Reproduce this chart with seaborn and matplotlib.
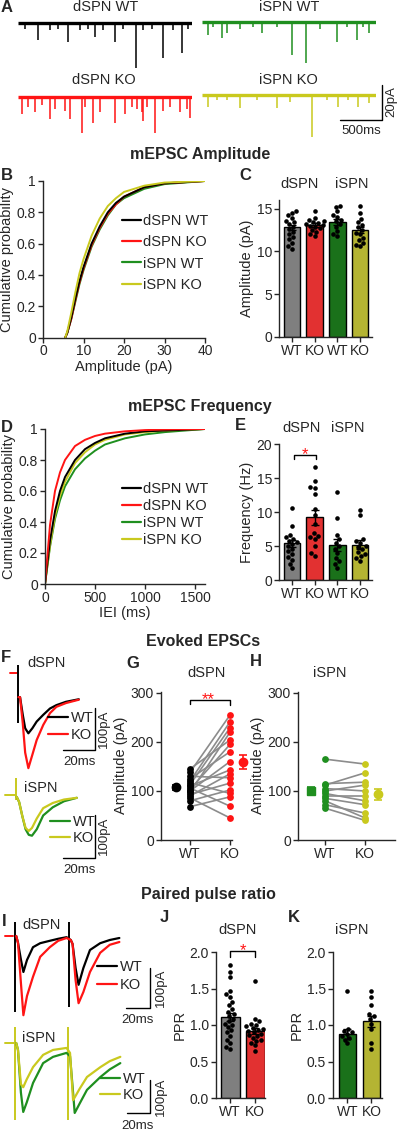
import numpy as np
import pandas as pd
import seaborn as sns
import matplotlib.pyplot as plt
from matplotlib.lines import Line2D

W, H = 400, 1132

BLACK, RED, GREEN, YELLOW, GRAY = '#000000', '#ff1414', '#1f8f1f', '#c9c91e', '#7f7f7f'
BAR_GREEN = '#0c7f0c'
PAIR_GRAY = '#8c8c8c'

# ---------------- A: example mEPSC traces (event time in ms, amplitude in pA)
trace_ms = 2070
a_dwt_time = [238, 595, 913, 1151, 1401, 1726, 1945, 80, 377, 476, 734, 833, 1008, 1248, 1486, 1587, 1845, 2023]
a_dwt_amp = [9.5, 10.5, 7.6, 10.5, 25.7, 20, 17, 3, 4, 3, 4, 3, 4, 3, 4, 3, 4, 3]
a_dko_time = [40, 119, 199, 278, 377, 437, 556, 615, 754, 794, 893, 972, 1151, 1270,
              1349, 1409, 1468, 1488, 1528, 1627, 1726, 1805, 1924, 2004, 2043]
a_dko_amp = [10, 6, 9, 5, 13, 7, 8, 13, 21, 6, 15, 9, 15, 10, 6, 7, 9, 14, 6, 21, 8, 6, 9, 7, 12]
a_iwt_time = [79, 238, 298, 714, 1071, 1241, 1607, 1845, 1994, 138, 456, 614, 892, 1408, 1725, 1923]
a_iwt_amp = [7.6, 9.5, 6.7, 6.7, 19, 23.8, 11.4, 10.5, 6.7, 3, 4, 3, 3, 4, 3, 3]
a_iko_time = [79, 456, 892, 1311, 1626, 1864, 1994, 178, 298, 654, 1051, 1488, 1745]
a_iko_amp = [6.7, 7.6, 7.6, 24, 6.7, 6.7, 4.8, 3, 3, 3, 4, 3, 3]

# ---------------- B: cumulative amplitude
b_amp = [5.5, 6, 7, 8, 9, 10, 12, 14, 16, 18, 20, 25, 30, 40]
b_dwt = [0, 0.03, 0.13, 0.25, 0.36, 0.45, 0.60, 0.71, 0.80, 0.86, 0.90, 0.96, 0.985, 1.0]
b_dko = [0, 0.03, 0.12, 0.24, 0.35, 0.44, 0.59, 0.70, 0.79, 0.85, 0.90, 0.96, 0.985, 1.0]
b_iwt = [0, 0.03, 0.12, 0.23, 0.34, 0.43, 0.58, 0.69, 0.78, 0.85, 0.89, 0.95, 0.98, 1.0]
b_iko = [0, 0.04, 0.16, 0.29, 0.41, 0.50, 0.65, 0.76, 0.84, 0.89, 0.93, 0.97, 0.99, 1.0]

# ---------------- C: amplitude per cell
groups = ['dSPN WT', 'dSPN KO', 'iSPN WT', 'iSPN KO']
c_dwt = [14.7, 14.5, 14.2, 13.9, 13.6, 13.4, 13.2, 12.9, 12.6, 12.3, 12.0, 11.7, 11.4, 11.0, 10.6, 10.3]
c_dko = [14.7, 13.9, 13.7, 13.5, 13.4, 13.3, 13.2, 13.1, 13.0, 12.9, 12.7, 12.5, 12.3, 12.0, 11.8]
c_iwt = [15.3, 15.2, 14.7, 14.3, 14.0, 13.7, 13.5, 13.2, 12.9, 12.4, 12.0, 11.8]
c_iko = [15.3, 14.5, 13.8, 13.4, 13.1, 12.8, 12.5, 12.2, 12.0, 11.6, 11.3, 11.0, 10.8, 10.6]
c_mean = [12.8, 13.1, 13.4, 12.5]
c_sem = [0.3, 0.2, 0.35, 0.35]

# ---------------- D: cumulative IEI
d_iei = [0, 50, 100, 150, 200, 300, 400, 500, 600, 800, 1000, 1200, 1400, 1600]
d_dwt = [0, 0.28, 0.47, 0.60, 0.69, 0.80, 0.87, 0.91, 0.94, 0.97, 0.985, 0.99, 0.995, 1.0]
d_dko = [0, 0.38, 0.60, 0.72, 0.80, 0.89, 0.93, 0.955, 0.97, 0.985, 0.993, 0.997, 0.999, 1.0]
d_iwt = [0, 0.24, 0.42, 0.54, 0.63, 0.74, 0.81, 0.86, 0.90, 0.94, 0.965, 0.98, 0.99, 1.0]
d_iko = [0, 0.25, 0.44, 0.57, 0.66, 0.78, 0.85, 0.90, 0.93, 0.965, 0.98, 0.99, 0.995, 1.0]

# ---------------- E: frequency per cell
e_dwt = [10.6, 8.0, 6.6, 6.3, 6.1, 5.8, 5.6, 5.3, 5.0, 4.6, 4.2, 3.8, 3.4, 3.0, 2.4, 1.8]
e_dko = [16.6, 14.6, 13.7, 13.5, 12.6, 10.4, 9.6, 8.2, 6.9, 6.5, 6.3, 6.0, 5.0, 4.0, 3.5]
e_iwt = [12.9, 9.1, 6.6, 6.0, 5.5, 5.0, 4.6, 4.0, 3.3, 2.8, 2.4, 1.8]
e_iko = [10.3, 9.5, 6.0, 5.8, 5.5, 5.0, 4.8, 4.5, 4.1, 3.8, 3.5, 3.2, 2.8]
e_mean = [5.4, 9.2, 5.2, 5.2]
e_sem = [0.55, 1.1, 0.9, 0.65]

# ---------------- F: evoked EPSC traces (ms, pA)
f_d_time = [0.3, 1.3, 3, 4.5, 6.5, 9, 11.7, 15.8, 20, 24, 30, 38]
f_d_wt = [2, 2, -40, -72, -84, -72, -56, -40, -25, -17, -9, -3]
f_d_ko = [2, 2, -60, -130, -167, -135, -100, -64, -36, -21, -12, -4]
f_i_time = [0.5, 2, 4, 6, 8, 10, 13, 17, 23, 30, 38]
f_i_wt = [0, -12, -45, -75, -88, -90, -75, -43, -24, -10, -2]
f_i_ko = [0, -12, -45, -72, -79, -72, -50, -26, -14, -6, -2]

# ---------------- G / H: paired evoked amplitudes
g_wt = [145, 138, 130, 125, 120, 117, 113, 110, 106, 103, 100, 97, 93, 90, 86, 80, 68]
g_ko = [204, 255, 127, 180, 241, 95, 229, 143, 69, 195, 160, 220, 116, 135, 45, 102, 88]
g_mean = [108, 159]
g_sem = [5, 15]
h_wt = [165, 115, 112, 105, 100, 95, 90, 85, 80, 72, 65]
h_ko = [155, 118, 137, 100, 112, 80, 90, 72, 45, 55, 40]
h_mean = [100, 93]
h_sem = [8, 11]

# ---------------- I: paired pulse traces (ms, pA)
i_d_time = [1, 2.5, 5, 7, 10, 15, 21, 29, 36, 43, 46.5, 48, 50.5, 53, 57, 62.5, 71, 79, 87]
i_d_wt = [0, -17, -60, -90, -60, -28, -18, -12, -7, -3, -10, -20, -80, -122, -80, -35, -18, -10, -5]
i_d_ko = [0, -17, -120, -198, -150, -102, -52, -28, -12, -5, -10, -20, -110, -168, -140, -90, -42, -22, -15]
i_i_time = [1, 2.5, 5, 7, 10, 15.4, 24, 32.5, 44, 47, 49.6, 51, 55, 61.5, 73, 81, 90]
i_i_wt = [0, -21, -150, -209, -180, -121, -61, -42, -30, -40, -150, -212, -185, -142, -103, -80, -61]
i_i_ko = [0, -21, -125, -134, -110, -73, -36, -21, -15, -30, -173, -165, -140, -103, -73, -55, -42]

# ---------------- J / K: paired pulse ratio
j_wt = [1.82, 1.73, 1.66, 1.46, 1.42, 1.38, 1.32, 1.27, 1.22, 1.18, 1.15, 1.12,
        1.08, 1.05, 1.02, 1.0, 0.97, 0.93, 0.9, 0.85, 0.8, 0.75, 0.7, 0.67]
j_ko = [1.6, 1.08, 1.05, 1.02, 1.0, 0.98, 0.96, 0.95, 0.93, 0.92, 0.9, 0.88,
        0.86, 0.85, 0.82, 0.8, 0.78, 0.75, 0.72, 0.65]
j_mean = [1.11, 0.92]
j_sem = [0.06, 0.04]
k_wt = [1.47, 0.95, 0.92, 0.9, 0.88, 0.85, 0.82, 0.8, 0.75]
k_ko = [1.46, 1.38, 1.28, 1.15, 1.12, 1.08, 1.02, 0.95, 0.75, 0.67]
k_mean = [0.88, 1.05]
k_sem = [0.07, 0.08]

sns.set_style('ticks')
plt.rcParams['font.family'] = ['Liberation Sans', 'DejaVu Sans']
plt.rcParams['axes.linewidth'] = 1.0
plt.rcParams['xtick.major.width'] = 1.0
plt.rcParams['ytick.major.width'] = 1.0
plt.rcParams['xtick.major.size'] = 3.5
plt.rcParams['ytick.major.size'] = 3.5
plt.rcParams['xtick.labelsize'] = 10
plt.rcParams['ytick.labelsize'] = 10
plt.rcParams['axes.labelsize'] = 10.5
plt.rcParams['xtick.major.pad'] = 1.5
plt.rcParams['ytick.major.pad'] = 1.5

fig = plt.figure(figsize=(W / 100, H / 100), dpi=100)


def px_axes(l, t, r, b):
    return fig.add_axes([l / W, 1 - b / H, (r - l) / W, (b - t) / H])


def ftxt(x, y, s, **kw):
    kw.setdefault('ha', 'center')
    kw.setdefault('va', 'center')
    fig.text(x / W, 1 - y / H, s, **kw)


def letter(x, y, s):
    ftxt(x, y, s, fontsize=12, fontweight='bold')


def title(y, s, x=200):
    ftxt(x, y, s, fontsize=11.5, fontweight='bold')


# ================= A
def mini_trace(box, times, amps, color):
    ax = px_axes(*box)
    ax.hlines(0, 0, trace_ms, color=color, lw=2.4)
    ax.vlines(times, 0, -np.array(amps), color=color, lw=1.1)
    ax.set_xlim(0, trace_ms)
    ax.set_ylim(-28, 6)
    ax.axis('off')
    return ax


mini_trace((18.3, 12.8, 192.3, 72.3), a_dwt_time, a_dwt_amp, BLACK)
mini_trace((201.7, 11.2, 375.7, 70.7), a_iwt_time, a_iwt_amp, GREEN)
mini_trace((18.3, 86.2, 192.3, 145.7), a_dko_time, a_dko_amp, RED)
ax_iko = mini_trace((201.7, 84.5, 375.7, 144), a_iko_time, a_iko_amp, YELLOW)
ax_iko.plot([1646, 2146, 2146], [-14.3, -14.3, 5.7], color='black', lw=1, clip_on=False)
ftxt(391, 102, '20pA', rotation=90, fontsize=9.5)
ftxt(361, 131, '500ms', fontsize=9.5)
letter(7, 8, 'A')
ftxt(106, 7, 'dSPN WT', fontsize=10.5)
ftxt(289, 7, 'iSPN WT', fontsize=10.5)
ftxt(104, 80, 'dSPN KO', fontsize=10.5)
ftxt(288, 80, 'iSPN KO', fontsize=10.5)

title(154, 'mEPSC Amplitude')
title(407, 'mEPSC Frequency')
title(641, 'Evoked EPSCs', x=203)
title(895, 'Paired pulse ratio', x=208)

legend_handles = [Line2D([], [], color=c, lw=1.6) for c in (BLACK, RED, GREEN, YELLOW)]


def cum_panel(box, xs, series, order, xlabel, xlim, xticks, leg_top, spacing):
    ax = px_axes(*box)
    frames = [pd.DataFrame({'x': xs, 'p': s, 'cell': g}) for g, s in zip(groups, series)]
    df = pd.concat(frames)
    pal = dict(zip(groups, (BLACK, RED, GREEN, YELLOW)))
    sns.lineplot(data=df, x='x', y='p', hue='cell', hue_order=order, palette=pal,
                 errorbar=None, lw=1.4, legend=False, ax=ax)
    ax.set_xlim(*xlim)
    ax.set_ylim(0, 1)
    ax.set_xticks(xticks)
    ax.set_yticks([0, 0.2, 0.4, 0.6, 0.8, 1.0], ['0', '0.2', '0.4', '0.6', '0.8', '1'])
    ax.set_xlabel(xlabel, labelpad=1)
    ax.set_ylabel('Cumulative probability', labelpad=2)
    sns.despine(ax=ax)
    ax.legend(legend_handles, groups, loc='upper left', frameon=False,
              bbox_to_anchor=(122 / W, 1 - leg_top / H), bbox_transform=fig.transFigure,
              borderpad=0, borderaxespad=0, handlelength=1.3, handletextpad=0.15,
              labelspacing=spacing, fontsize=10.5)
    return ax


cum_panel((43, 181, 205, 337.5), b_amp, [b_dwt, b_dko, b_iwt, b_iko],
          ['iSPN WT', 'dSPN KO', 'dSPN WT', 'iSPN KO'], 'Amplitude (pA)', (0, 40),
          [0, 10, 20, 30, 40], 214, 0.5)
letter(7, 176, 'B')
cum_panel((45, 429, 205, 584), d_iei, [d_dwt, d_dko, d_iwt, d_iko],
          ['iSPN WT', 'iSPN KO', 'dSPN WT', 'dSPN KO'], 'IEI (ms)', (0, 1600),
          [0, 500, 1000, 1500], 482, 0.2)
letter(7, 427, 'D')

bar_colors = [GRAY, RED, BAR_GREEN, YELLOW]


def bar_panel(box, cats, values, means, sems, colors, xlim, width, ylim, yticks, ylabel,
              yfmt=None):
    ax = px_axes(*box)
    sns.barplot(x=cats, y=means, hue=cats, palette=colors, legend=False, width=width,
                edgecolor='black', linewidth=1, errorbar=None, ax=ax)
    df = pd.concat([pd.DataFrame({'g': c, 'v': v}) for c, v in zip(cats, values)])
    sns.swarmplot(data=df, x='g', y='v', order=cats, color='black', size=3.3, ax=ax,
                  zorder=3, warn_thresh=1)
    ax.errorbar(range(len(cats)), means, yerr=sems, fmt='none', ecolor='black',
                elinewidth=1, capsize=3, capthick=1, zorder=4)
    ax.set_xlim(*xlim)
    ax.set_ylim(*ylim)
    ax.set_xticks(range(len(cats)), ['WT', 'KO', 'WT', 'KO'][:len(cats)])
    if yfmt:
        ax.set_yticks(yticks, [yfmt.format(t) for t in yticks])
    else:
        ax.set_yticks(yticks)
    ax.set_xlabel('')
    ax.set_ylabel(ylabel, labelpad=2)
    sns.despine(ax=ax)
    return ax


bar_panel((279, 200, 372, 337), groups, [c_dwt, c_dko, c_iwt, c_iko], c_mean, c_sem,
          bar_colors, (-0.57, 3.52), 0.73, (0, 16), [0, 5, 10, 15], 'Amplitude (pA)')
letter(245, 175, 'C')
ftxt(300, 184, 'dSPN', fontsize=10.5)
ftxt(352, 184, 'iSPN', fontsize=10.5)

ax_e = bar_panel((279, 444, 372, 580), groups, [e_dwt, e_dko, e_iwt, e_iko], e_mean, e_sem,
                 bar_colors, (-0.57, 3.52), 0.73, (0, 20), [0, 5, 10, 15, 20], 'Frequency (Hz)')
ax_e.plot([0.1, 0.1, 1.05, 1.05], [17.8, 18.4, 18.4, 17.8], color='black', lw=1, clip_on=False)
ax_e.text(0.575, 17.8, '*', color=RED, ha='center', va='baseline', fontsize=12)
letter(240, 425, 'E')
ftxt(302, 428, 'dSPN', fontsize=10.5)
ftxt(348, 428, 'iSPN', fontsize=10.5)


# ================= F and I traces
def epsc_trace(box, xlim, ylim, traces, pre, artifacts, art_color):
    ax = px_axes(*box)
    ax.plot(pre[0], pre[1], color=traces[1][2], lw=1.4)
    for t0, top, bot in artifacts:
        ax.vlines(t0, bot, top, color=art_color, lw=1.4)
    for t, v, c in traces:
        ax.plot(t, v, color=c, lw=1.6)
    ax.set_xlim(*xlim)
    ax.set_ylim(*ylim)
    ax.axis('off')
    return ax


def trace_legend(ax, x, top, colors, spacing):
    hs = [Line2D([], [], color=c, lw=1.6) for c in colors]
    ax.legend(hs, ['WT', 'KO'], loc='upper left', frameon=False,
              bbox_to_anchor=(x / W, 1 - top / H), bbox_transform=fig.transFigure,
              borderpad=0, borderaxespad=0, handlelength=1.35, handletextpad=0.2,
              labelspacing=spacing, fontsize=10.5)


def scale_bar(ax, x_end, y_bot, ms, pa, lbl_pa, lbl_ms):
    ax.plot([x_end - ms, x_end, x_end], [y_bot, y_bot, y_bot + pa], color='black', lw=1,
            clip_on=False)
    ftxt(*lbl_pa, '100pA', rotation=90, fontsize=9.5)
    ftxt(*lbl_ms, '20ms', fontsize=9.5)


ax = epsc_trace((5, 660, 100, 775), (-8.1, 51.25), (-183.3, 90.5),
                [(f_d_time, f_d_wt, BLACK), (f_d_time, f_d_ko, RED)],
                ([-5, -0.6], [60, 60]), [(0, 79, -60)], BLACK)
trace_legend(ax, 48, 711, (BLACK, RED), 0.2)
scale_bar(ax, 48.1, -123.8, 20, 100, (104, 729), (79, 762))
letter(6, 657, 'F')
ftxt(27, 663, 'dSPN', fontsize=10.5, ha='left')

ax = epsc_trace((3, 775, 100, 845), (-8.1, 52.5), (-111.6, 51),
                [(f_i_time, f_i_wt, GREEN), (f_i_time, f_i_ko, YELLOW)],
                ([-7, -0.6], [5, 5]), [(0, 44, -8)], YELLOW)
trace_legend(ax, 50, 815, (GREEN, YELLOW), 0.15)
scale_bar(ax, 49.4, -141.9, 20, 100, (104, 836), (79, 870))
ftxt(24, 788, 'iSPN', fontsize=10.5, ha='left')

ax = epsc_trace((3, 915, 125, 1020), (-10, 91.7), (-210, 52.5),
                [(i_d_time, i_d_wt, BLACK), (i_d_time, i_d_ko, RED)],
                ([-8, -1.5], [0, 0]), [(0, 35, -190), (45, 35, -178)], BLACK)
trace_legend(ax, 97, 960, (BLACK, RED), 0.28)
scale_bar(ax, 112.5, -180, 20, 100, (161, 988), (138, 1020))
letter(4, 922, 'I')
ftxt(22, 925, 'dSPN', fontsize=10.5, ha='left')

ax = epsc_trace((3, 1022, 125, 1125), (-10.3, 94), (-248.5, 63.6),
                [(i_i_time, i_i_wt, GREEN), (i_i_time, i_i_ko, YELLOW)],
                ([-9, -1], [0, 0]), [(0, 48, -233), (45.3, 48, -233)], YELLOW)
trace_legend(ax, 100, 1072, (GREEN, YELLOW), 0.12)
scale_bar(ax, 115.4, -212, 20, 100, (161, 1097), (138, 1126))
ftxt(22, 1038, 'iSPN', fontsize=10.5, ha='left')


# ================= G / H paired plots
def paired_panel(box, xlim, spine_right, wt, ko, c_wt, c_ko, means, sems, mean_markers):
    ax = px_axes(*box)
    n = len(wt)
    df = pd.DataFrame({'cell': list(range(n)) * 2, 'pos': [0] * n + [1] * n, 'amp': wt + ko})
    sns.lineplot(data=df, x='pos', y='amp', units='cell', estimator=None, color=PAIR_GRAY,
                 lw=1.2, ax=ax)
    sns.scatterplot(x=[0] * n, y=wt, color=c_wt, s=24, linewidth=0, ax=ax, zorder=3)
    sns.scatterplot(x=[1] * n, y=ko, color=c_ko, s=24, linewidth=0, ax=ax, zorder=3)
    for xm, m, s, c, mk in zip((-0.35, 1.33), means, sems, (c_wt, c_ko), mean_markers):
        ax.errorbar([xm], [m], yerr=[s], fmt=mk, color=c, ms=6, capsize=3,
                    elinewidth=1.2, capthick=1.2, zorder=4)
    ax.set_xlim(*xlim)
    ax.set_ylim(0, 303)
    ax.set_xticks([0, 1], ['WT', 'KO'])
    ax.set_yticks([0, 100, 200, 300])
    ax.set_xlabel('')
    ax.set_ylabel('Amplitude (pA)', labelpad=2)
    sns.despine(ax=ax)
    ax.spines['bottom'].set_bounds(xlim[0], spine_right)
    return ax


ax_g = paired_panel((161, 691.5, 249, 840), (-0.725, 1.475), 1.05, g_wt, g_ko, BLACK, RED,
                    g_mean, g_sem, ('o', 'o'))
ax_g.plot([0, 0, 1, 1], [278, 286, 286, 276], color='black', lw=1, clip_on=False)
ax_g.text(0.45, 277, '**', color=RED, ha='center', va='baseline', fontsize=12)
letter(133, 664, 'G')
ftxt(207, 673, 'dSPN', fontsize=10.5)

paired_panel((298, 691.5, 395, 840), (-0.675, 1.75), 1.75, h_wt, h_ko, GREEN, YELLOW,
             h_mean, h_sem, ('s', 'o'))
letter(256, 661, 'H')
ftxt(330, 673, 'iSPN', fontsize=10.5)

# ================= J / K
ax_j = bar_panel((216, 952, 265, 1098), ['WT', 'KO'], [j_wt, j_ko], j_mean, j_sem,
                 [GRAY, RED], (-0.56, 1.4), 0.76, (0, 2), [0, 0.5, 1.0, 1.5, 2.0], 'PPR',
                 yfmt='{:.1f}')
ax_j.plot([0, 0, 1, 1], [1.93, 2.01, 2.01, 1.93], color='black', lw=1, clip_on=False)
ax_j.text(0.5, 1.96, '*', color=RED, ha='center', va='baseline', fontsize=12)
letter(164, 918, 'J')
ftxt(238, 930, 'dSPN', fontsize=10.5)

bar_panel((333, 952, 382, 1098), ['WT', 'KO'], [k_wt, k_ko], k_mean, k_sem,
          [BAR_GREEN, YELLOW], (-0.6, 1.44), 0.71, (0, 2), [0, 0.5, 1.0, 1.5, 2.0], 'PPR',
          yfmt='{:.1f}')
letter(294, 918, 'K')
ftxt(352, 930, 'iSPN', fontsize=10.5)

fig.savefig('out.png', dpi=100)
